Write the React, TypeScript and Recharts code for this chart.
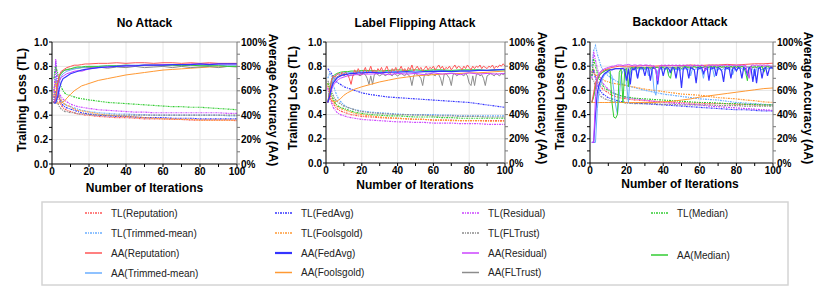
import React from 'react';
import { LineChart, Line, XAxis, YAxis, ReferenceLine } from 'recharts';

const FONT = '"Liberation Sans", Arial, Helvetica, sans-serif';

// iteration positions
const ITER = [1, 2, 3, 4, 5, 6, 7, 8, 10, 12, 14, 16, 18, 20, 25, 30, 35, 40, 45, 50, 55, 60, 65, 70, 75, 80, 85, 90, 95, 100];
const ITER_FINE = Array.from({ length: 100 }, (_, i) => i + 1);

const X_TICKS = [0, 10, 20, 30, 40, 50, 60, 70, 80, 90, 100];
const TL_TICKS = [0, 0.1, 0.2, 0.3, 0.4, 0.5, 0.6, 0.7, 0.8, 0.9, 1];
const AA_TICKS = [0, 10, 20, 30, 40, 50, 60, 70, 80, 90, 100];

const COLORS: Record<string, string> = {
  Reputation: '#ff5656',
  FedAvg: '#3434ff',
  'Trimmed-mean': '#6aaeff',
  Foolsgold: '#ff9933',
  Residual: '#cc44ff',
  FLTrust: '#8c8c8c',
  Median: '#33cc33',
};

// ---------- No Attack ----------
const NA_TL_REPUTATION = [0.6, 0.7, 0.6, 0.52, 0.48, 0.46, 0.45, 0.44, 0.43, 0.42, 0.41, 0.41, 0.4, 0.4, 0.39, 0.385, 0.38, 0.38, 0.375, 0.37, 0.37, 0.37, 0.365, 0.365, 0.36, 0.36, 0.36, 0.36, 0.36, 0.355];
const NA_TL_FEDAVG = [0.5, 0.84, 0.62, 0.54, 0.5, 0.48, 0.47, 0.46, 0.45, 0.44, 0.43, 0.42, 0.415, 0.41, 0.4, 0.395, 0.39, 0.39, 0.385, 0.38, 0.38, 0.38, 0.375, 0.375, 0.375, 0.37, 0.37, 0.37, 0.37, 0.37];
const NA_TL_TRIMMED = [0.6, 0.72, 0.62, 0.56, 0.52, 0.5, 0.49, 0.48, 0.47, 0.46, 0.45, 0.44, 0.435, 0.43, 0.42, 0.415, 0.41, 0.41, 0.405, 0.405, 0.4, 0.4, 0.4, 0.4, 0.4, 0.4, 0.4, 0.4, 0.395, 0.395];
const NA_TL_FOOLSGOLD = [0.55, 0.68, 0.6, 0.55, 0.52, 0.5, 0.49, 0.48, 0.47, 0.45, 0.44, 0.435, 0.43, 0.425, 0.41, 0.4, 0.395, 0.39, 0.385, 0.38, 0.375, 0.37, 0.37, 0.365, 0.365, 0.36, 0.36, 0.36, 0.36, 0.36];
const NA_TL_RESIDUAL = [0.5, 0.86, 0.65, 0.58, 0.55, 0.53, 0.52, 0.51, 0.49, 0.48, 0.47, 0.465, 0.46, 0.455, 0.445, 0.44, 0.435, 0.43, 0.425, 0.425, 0.42, 0.42, 0.42, 0.42, 0.42, 0.42, 0.42, 0.42, 0.415, 0.415];
const NA_TL_FLTRUST = [0.5, 0.6, 0.5, 0.47, 0.45, 0.44, 0.43, 0.43, 0.42, 0.42, 0.41, 0.41, 0.41, 0.405, 0.4, 0.4, 0.4, 0.4, 0.4, 0.4, 0.4, 0.4, 0.4, 0.4, 0.4, 0.4, 0.4, 0.4, 0.4, 0.4];
const NA_TL_MEDIAN = [0.7, 0.8, 0.75, 0.68, 0.63, 0.6, 0.58, 0.57, 0.56, 0.55, 0.54, 0.535, 0.53, 0.525, 0.515, 0.505, 0.5, 0.495, 0.49, 0.485, 0.48, 0.475, 0.47, 0.47, 0.465, 0.465, 0.46, 0.455, 0.45, 0.445];
const NA_AA_REPUTATION = [50, 52, 66, 73, 76, 77, 78, 79, 80, 81, 81, 81.5, 82, 82, 82.5, 82.5, 83, 82.5, 83, 83, 82.5, 83, 83, 82.5, 83, 82.5, 83, 82.5, 82.5, 82.5];
const NA_AA_FEDAVG = [50, 50, 55, 62, 67, 70, 71, 72, 74, 75, 76, 77, 77.5, 78, 79, 79.5, 80, 80.5, 80.5, 81, 81, 81, 81.5, 81.5, 81.5, 82, 81.5, 82, 82, 82];
const NA_AA_TRIMMED = [50, 50, 60, 68, 72, 74, 75, 76, 77, 78, 78.5, 79, 79.5, 80, 80, 80.5, 80.5, 81, 81, 81, 81, 81, 81, 81, 81, 81, 81, 81, 80.5, 80.5];
const NA_AA_FOOLSGOLD = [50, 50, 50, 50, 50, 51, 52, 54, 57, 60, 62, 64, 65, 66, 68.5, 70, 71.5, 73, 74, 75, 76, 77, 77.5, 78, 78.5, 79, 79.5, 79.5, 80, 80];
const NA_AA_RESIDUAL = [50, 55, 63, 68, 71, 72, 73, 74, 75, 76, 76.5, 76, 77, 78, 79, 79.5, 80, 80.5, 80.5, 81, 81, 81.5, 81.5, 81.5, 82, 82, 82, 82, 82, 82];
const NA_AA_FLTRUST = [50, 52, 65, 72, 75, 76, 77, 77, 78, 78, 78.5, 79, 79, 79, 79.5, 78.5, 79.5, 79, 80, 79, 79.5, 80, 79, 80, 79, 79.5, 80, 79, 80, 79.5];
const NA_AA_MEDIAN = [50, 55, 65, 72, 74, 76, 77, 77.5, 78, 79, 79.5, 79.5, 80, 80, 80, 80.5, 80.5, 81, 80.5, 81, 81, 81, 81, 80.5, 81, 80.5, 80.5, 80.5, 80, 80];

// ---------- Label Flipping Attack ----------
const LF_TL_REPUTATION = [0.64, 0.58, 0.52, 0.49, 0.47, 0.45, 0.44, 0.43, 0.42, 0.41, 0.4, 0.395, 0.39, 0.385, 0.38, 0.375, 0.37, 0.37, 0.365, 0.36, 0.36, 0.355, 0.355, 0.355, 0.35, 0.35, 0.35, 0.35, 0.35, 0.35];
const LF_TL_FEDAVG = [0.78, 0.76, 0.74, 0.71, 0.69, 0.67, 0.66, 0.65, 0.63, 0.62, 0.61, 0.6, 0.59, 0.58, 0.565, 0.555, 0.545, 0.54, 0.535, 0.53, 0.525, 0.52, 0.515, 0.51, 0.505, 0.5, 0.49, 0.48, 0.47, 0.46];
const LF_TL_TRIMMED = [0.7, 0.74, 0.72, 0.65, 0.6, 0.56, 0.53, 0.51, 0.48, 0.46, 0.45, 0.44, 0.435, 0.43, 0.42, 0.415, 0.41, 0.405, 0.4, 0.4, 0.4, 0.4, 0.395, 0.395, 0.39, 0.39, 0.39, 0.39, 0.39, 0.39];
const LF_TL_FOOLSGOLD = [0.66, 0.6, 0.55, 0.52, 0.49, 0.47, 0.46, 0.45, 0.44, 0.43, 0.42, 0.41, 0.405, 0.4, 0.39, 0.38, 0.375, 0.37, 0.365, 0.36, 0.36, 0.355, 0.355, 0.35, 0.35, 0.35, 0.35, 0.345, 0.345, 0.345];
const LF_TL_RESIDUAL = [0.62, 0.55, 0.5, 0.46, 0.44, 0.42, 0.41, 0.4, 0.39, 0.38, 0.375, 0.37, 0.365, 0.36, 0.355, 0.35, 0.345, 0.34, 0.34, 0.335, 0.335, 0.33, 0.33, 0.33, 0.325, 0.325, 0.325, 0.32, 0.32, 0.32];
const LF_TL_FLTRUST = [0.68, 0.65, 0.6, 0.56, 0.53, 0.51, 0.5, 0.49, 0.47, 0.46, 0.45, 0.44, 0.43, 0.425, 0.415, 0.41, 0.405, 0.4, 0.4, 0.395, 0.395, 0.39, 0.39, 0.39, 0.385, 0.385, 0.385, 0.38, 0.38, 0.38];
const LF_TL_MEDIAN = [0.66, 0.62, 0.57, 0.53, 0.5, 0.48, 0.47, 0.46, 0.45, 0.44, 0.43, 0.42, 0.415, 0.41, 0.4, 0.395, 0.39, 0.39, 0.385, 0.38, 0.38, 0.38, 0.375, 0.375, 0.37, 0.37, 0.37, 0.37, 0.37, 0.37];
const LF_AA_REPUTATION = [
  50, 58, 68, 72, 71, 73, 74, 72, 75, 73,
  75, 73, 70, 65, 72, 77, 74, 78, 75, 73,
  76, 79, 74, 76, 80, 75, 77, 74, 78, 76,
  79, 75, 77, 80, 76, 74, 78, 76, 79, 75,
  77, 80, 76, 78, 75, 79, 77, 81, 76, 78,
  80, 77, 79, 76, 78, 80, 77, 79, 78, 80,
  77, 79, 81, 78, 80, 77, 79, 78, 80, 77,
  79, 81, 78, 80, 79, 77, 80, 78, 81, 79,
  77, 80, 78, 80, 79, 81, 78, 80, 79, 78,
  80, 79, 81, 78, 80, 79, 81, 80, 82, 80,
];
const LF_AA_FEDAVG = [50, 55, 62, 66, 68, 70, 71, 72, 73, 73.5, 74, 74, 74.5, 74.5, 75, 74.5, 75, 75, 75.5, 75, 75.5, 75.5, 76, 75.5, 76, 76, 76.5, 76.5, 77, 77.5];
const LF_AA_TRIMMED = [50, 58, 66, 70, 72, 73, 73.5, 74, 74.5, 75, 75, 75, 75.5, 75.5, 75.5, 75, 76, 75.5, 76, 76, 76, 76.5, 76.5, 76, 76.5, 76.5, 77, 76.5, 77, 77];
const LF_AA_FOOLSGOLD = [50, 53, 52, 51, 50.5, 51, 52, 53, 56, 58, 59.5, 61, 62, 63, 65, 67, 68.5, 70, 71, 72, 72.5, 73, 73.5, 74, 74, 74.5, 74.5, 75, 75.5, 76];
const LF_AA_RESIDUAL = [50, 55, 60, 64, 66, 68, 69, 70, 71, 72, 72.5, 73, 73, 73.5, 73.5, 74, 73, 74, 73.5, 74, 73, 74.5, 73.5, 74, 73, 74.5, 73.5, 74, 73.5, 74];
const LF_AA_FLTRUST = [
  50, 55, 63, 68, 70, 71, 72, 72, 73, 72,
  73, 73, 72, 73, 72, 73, 74, 73, 72, 73,
  74, 73, 70, 65, 72, 65, 73, 74, 73, 72,
  73, 74, 72, 73, 74, 73, 72, 74, 73, 72,
  73, 74, 73, 72, 74, 73, 71, 64, 72, 74,
  73, 72, 70, 64, 73, 74, 72, 73, 74, 73,
  72, 74, 73, 70, 64, 73, 74, 72, 70, 64,
  73, 74, 72, 73, 74, 73, 72, 74, 72, 66,
  64, 72, 64, 73, 74, 72, 73, 70, 64, 72,
  73, 74, 73, 72, 74, 73, 72, 74, 73, 74,
];
const LF_AA_MEDIAN = [50, 60, 68, 72, 73, 74, 74.5, 75, 75.5, 75.5, 76, 76, 76, 76.5, 76.5, 76, 76.5, 77, 76.5, 77, 76.5, 77, 77, 76.5, 77, 77, 77, 76.5, 77, 77];

// ---------- Backdoor Attack ----------
const BD_TL_REPUTATION = [0.75, 0.78, 0.72, 0.68, 0.65, 0.63, 0.61, 0.6, 0.58, 0.56, 0.55, 0.54, 0.535, 0.53, 0.52, 0.515, 0.51, 0.505, 0.5, 0.5, 0.495, 0.495, 0.49, 0.49, 0.49, 0.485, 0.485, 0.48, 0.48, 0.48];
const BD_TL_FEDAVG = [0.72, 0.76, 0.7, 0.65, 0.61, 0.59, 0.57, 0.56, 0.54, 0.53, 0.52, 0.51, 0.505, 0.5, 0.495, 0.49, 0.485, 0.48, 0.475, 0.47, 0.465, 0.46, 0.455, 0.45, 0.445, 0.44, 0.44, 0.435, 0.43, 0.43];
const BD_TL_TRIMMED = [0.8, 0.93, 0.97, 0.9, 0.85, 0.8, 0.77, 0.75, 0.72, 0.7, 0.68, 0.665, 0.65, 0.64, 0.62, 0.6, 0.585, 0.57, 0.56, 0.55, 0.54, 0.53, 0.525, 0.52, 0.51, 0.5, 0.495, 0.49, 0.485, 0.48];
const BD_TL_FOOLSGOLD = [0.75, 0.74, 0.73, 0.72, 0.71, 0.7, 0.69, 0.68, 0.67, 0.66, 0.655, 0.65, 0.645, 0.64, 0.625, 0.61, 0.6, 0.59, 0.58, 0.57, 0.565, 0.56, 0.55, 0.54, 0.535, 0.53, 0.52, 0.515, 0.505, 0.5];
const BD_TL_RESIDUAL = [0.7, 0.92, 0.85, 0.78, 0.73, 0.69, 0.66, 0.64, 0.61, 0.59, 0.57, 0.56, 0.55, 0.54, 0.53, 0.52, 0.51, 0.5, 0.495, 0.49, 0.485, 0.48, 0.47, 0.465, 0.46, 0.455, 0.45, 0.445, 0.44, 0.435];
const BD_TL_FLTRUST = [0.7, 0.68, 0.63, 0.6, 0.57, 0.55, 0.54, 0.53, 0.52, 0.51, 0.505, 0.5, 0.5, 0.495, 0.49, 0.49, 0.49, 0.485, 0.485, 0.48, 0.48, 0.48, 0.48, 0.475, 0.475, 0.475, 0.47, 0.47, 0.47, 0.47];
const BD_TL_MEDIAN = [0.72, 0.86, 0.8, 0.74, 0.7, 0.67, 0.64, 0.62, 0.6, 0.58, 0.57, 0.56, 0.55, 0.545, 0.535, 0.53, 0.525, 0.52, 0.515, 0.51, 0.505, 0.5, 0.5, 0.495, 0.49, 0.49, 0.485, 0.485, 0.48, 0.48];
const BD_AA_REPUTATION = [50, 58, 66, 70, 73, 75, 76, 77, 78, 79, 79.5, 80, 80, 80, 80, 80.5, 80, 80.5, 80.5, 80.5, 81, 80.5, 81, 81, 81.5, 81, 81.5, 82, 82, 82.5];
const BD_AA_FEDAVG = [
  17, 17, 40, 58, 65, 69, 72, 74, 75, 76,
  77, 77, 77.5, 78, 78, 78, 78, 78, 77, 68,
  78, 65, 78, 77, 79, 70, 78, 79, 78, 72,
  79, 78, 68, 78, 79, 77, 65, 78, 79, 72,
  78, 79, 78, 75, 79, 78, 70, 79, 78, 62,
  78, 79, 78, 70, 79, 78, 77, 66, 79, 78,
  79, 74, 78, 79, 68, 79, 78, 79, 72, 79,
  78, 76, 67, 79, 78, 79, 70, 78, 79, 76,
  79, 78, 70, 79, 78, 73, 79, 78, 67, 78,
  66, 78, 79, 70, 78, 79, 72, 78, 79, 78,
];
const BD_AA_TRIMMED = [
  17, 17, 17, 45, 60, 66, 70, 73, 74, 75,
  74, 72, 60, 48, 40, 55, 72, 76, 77, 65,
  50, 75, 77, 78, 77, 70, 78, 77, 78, 77,
  78, 72, 78, 77, 60, 56, 76, 78, 77, 78,
  77, 78, 74, 78, 77, 78, 77, 78, 76, 78,
  77, 78, 77, 78, 72, 78, 77, 78, 77, 78,
  77, 70, 78, 77, 78, 77, 78, 71, 78, 77,
  78, 77, 78, 77, 78, 77, 78, 73, 78, 77,
  78, 79, 78, 77, 78, 79, 78, 77, 78, 72,
  78, 79, 78, 77, 78, 79, 78, 79, 78, 79,
];
const BD_AA_FOOLSGOLD = [50, 50, 50, 50, 50, 50, 50, 50, 50, 50, 50, 50, 50, 50, 50, 50, 50, 50.5, 51, 52, 53, 54.5, 55.5, 56.5, 57.5, 58.5, 59.5, 60.5, 61.5, 62];
const BD_AA_RESIDUAL = [
  17, 17, 55, 70, 74, 76, 77, 78, 78.5, 79,
  79.5, 80, 80, 80.5, 81, 81, 81, 80.5, 81, 81,
  81.5, 81, 80.5, 81, 81, 80.5, 81, 81, 80.5, 81,
  81, 80.5, 81, 80, 80.5, 76, 68, 80, 81, 80.5,
  81, 80.5, 81, 80.5, 81, 80.5, 81, 80.5, 81, 80.5,
  81, 80.5, 81, 80.5, 81, 80, 81, 80.5, 81, 80.5,
  81, 80.5, 76, 80, 81, 80.5, 81, 80.5, 81, 80.5,
  81, 80.5, 81, 80.5, 81, 80.5, 81, 80.5, 81, 80.5,
  81, 80.5, 81, 80.5, 81, 75, 70, 80.5, 81, 80.5,
  81, 80.5, 81, 80.5, 81, 80.5, 81, 80.5, 80, 80,
];
const BD_AA_FLTRUST = [50, 55, 65, 70, 73, 74, 75, 76, 77, 77.5, 78, 78, 78.5, 78.5, 79, 79, 79, 79.5, 79, 79.5, 79.5, 79, 79.5, 79.5, 79, 79.5, 79.5, 79, 79.5, 79.5];
const BD_AA_MEDIAN = [
  50, 55, 62, 68, 72, 74, 75, 76, 77, 77,
  76, 50, 38, 37, 40, 75, 78, 50, 77, 78,
  63, 78, 79, 78, 79, 78, 79, 78, 79, 78,
  79, 79, 78, 79, 78, 79, 79, 78, 79, 79,
  78, 79, 72, 70, 79, 79, 78, 79, 79, 78,
  79, 80, 79, 79, 78, 79, 80, 79, 79, 80,
  79, 79, 80, 79, 79, 80, 79, 80, 79, 79,
  80, 79, 80, 79, 80, 79, 80, 79, 80, 79,
  80, 79, 80, 79, 75, 68, 79, 80, 79, 80,
  79, 80, 79, 80, 75, 79, 80, 79, 80, 79,
];

type Series = { method: string; kind: 'TL' | 'AA'; x: number[]; y: number[] };

const s = (method: string, kind: 'TL' | 'AA', x: number[], y: number[]): Series => ({ method, kind, x, y });

const PANELS = [
  {
    title: 'No Attack', left: 0, width: 280, leftW: 52, rightW: 43, xH: 36,
    titleX: 144.5, titleY: 23, ylX: 22, ylY: 100, yrX: 273, yrY: 100, xlX: 144.5, xlY: 188,
    series: [
      s('Reputation', 'TL', ITER, NA_TL_REPUTATION), s('FedAvg', 'TL', ITER, NA_TL_FEDAVG),
      s('Trimmed-mean', 'TL', ITER, NA_TL_TRIMMED), s('Foolsgold', 'TL', ITER, NA_TL_FOOLSGOLD),
      s('Residual', 'TL', ITER, NA_TL_RESIDUAL), s('FLTrust', 'TL', ITER, NA_TL_FLTRUST),
      s('Median', 'TL', ITER, NA_TL_MEDIAN),
      s('Foolsgold', 'AA', ITER, NA_AA_FOOLSGOLD), s('FLTrust', 'AA', ITER, NA_AA_FLTRUST),
      s('Trimmed-mean', 'AA', ITER, NA_AA_TRIMMED), s('Median', 'AA', ITER, NA_AA_MEDIAN),
      s('Residual', 'AA', ITER, NA_AA_RESIDUAL), s('Reputation', 'AA', ITER, NA_AA_REPUTATION),
      s('FedAvg', 'AA', ITER, NA_AA_FEDAVG),
    ],
  },
  {
    title: 'Label Flipping Attack', left: 270, width: 280, leftW: 56, rightW: 45, xH: 37,
    titleX: 415, titleY: 23, ylX: 292.7, ylY: 98, yrX: 541.7, yrY: 98, xlX: 415, xlY: 185,
    series: [
      s('Reputation', 'TL', ITER, LF_TL_REPUTATION), s('FedAvg', 'TL', ITER, LF_TL_FEDAVG),
      s('Trimmed-mean', 'TL', ITER, LF_TL_TRIMMED), s('Foolsgold', 'TL', ITER, LF_TL_FOOLSGOLD),
      s('Residual', 'TL', ITER, LF_TL_RESIDUAL), s('FLTrust', 'TL', ITER, LF_TL_FLTRUST),
      s('Median', 'TL', ITER, LF_TL_MEDIAN),
      s('FLTrust', 'AA', ITER_FINE, LF_AA_FLTRUST), s('Foolsgold', 'AA', ITER, LF_AA_FOOLSGOLD),
      s('Trimmed-mean', 'AA', ITER, LF_AA_TRIMMED), s('Median', 'AA', ITER, LF_AA_MEDIAN),
      s('Reputation', 'AA', ITER_FINE, LF_AA_REPUTATION), s('Residual', 'AA', ITER, LF_AA_RESIDUAL),
      s('FedAvg', 'AA', ITER, LF_AA_FEDAVG),
    ],
  },
  {
    title: 'Backdoor Attack', left: 545, width: 285, leftW: 45, rightW: 57, xH: 37,
    titleX: 680, titleY: 22, ylX: 560, ylY: 98, yrX: 808, yrY: 98, xlX: 680, xlY: 184,
    series: [
      s('Reputation', 'TL', ITER, BD_TL_REPUTATION), s('FedAvg', 'TL', ITER, BD_TL_FEDAVG),
      s('Trimmed-mean', 'TL', ITER, BD_TL_TRIMMED), s('Foolsgold', 'TL', ITER, BD_TL_FOOLSGOLD),
      s('Residual', 'TL', ITER, BD_TL_RESIDUAL), s('FLTrust', 'TL', ITER, BD_TL_FLTRUST),
      s('Median', 'TL', ITER, BD_TL_MEDIAN),
      s('Foolsgold', 'AA', ITER, BD_AA_FOOLSGOLD), s('FLTrust', 'AA', ITER, BD_AA_FLTRUST),
      s('Trimmed-mean', 'AA', ITER_FINE, BD_AA_TRIMMED), s('Median', 'AA', ITER_FINE, BD_AA_MEDIAN),
      s('Reputation', 'AA', ITER, BD_AA_REPUTATION), s('FedAvg', 'AA', ITER_FINE, BD_AA_FEDAVG),
      s('Residual', 'AA', ITER_FINE, BD_AA_RESIDUAL),
    ],
  },
];

const LEGEND_COLUMNS = [
  { lx: 85, tx: 111, items: [['Reputation', 'TL', 213], ['Trimmed-mean', 'TL', 233], ['Reputation', 'AA', 253], ['Trimmed-mean', 'AA', 273]] },
  { lx: 275, tx: 301, items: [['FedAvg', 'TL', 213], ['Foolsgold', 'TL', 233], ['FedAvg', 'AA', 253], ['Foolsgold', 'AA', 272.5]] },
  { lx: 462, tx: 488, items: [['Residual', 'TL', 213], ['FLTrust', 'TL', 233], ['Residual', 'AA', 253], ['FLTrust', 'AA', 272.5]] },
  { lx: 651, tx: 677, items: [['Median', 'TL', 213], ['Median', 'AA', 255]] },
];

const TL_DASH = '2 1 1 1';

const tickStyle = { fontSize: 10, fontWeight: 'bold', fill: '#000', fontFamily: FONT };
const axisTitle = { fontSize: 12, fontWeight: 'bold', fill: '#000', fontFamily: FONT } as const;

const fmtX = (v: number) => (v % 20 === 0 ? String(v) : '');
const fmtTL = (v: number) => (Math.round(v * 10) % 2 === 0 ? v.toFixed(1) : '');
const fmtAA = (v: number) => (v % 20 === 0 ? `${v}%` : '');

function Panel({ p }: { p: (typeof PANELS)[number] }) {
  const tl = p.series.filter((q) => q.kind === 'TL');
  const aa = p.series.filter((q) => q.kind === 'AA');
  const pts = (q: Series) => q.x.map((x, i) => ({ x, y: q.y[i] }));
  return (
    <div style={{ position: 'absolute', left: p.left, top: 0 }}>
      <LineChart width={p.width} height={200} margin={{ top: 42, right: 0, bottom: 0, left: 0 }}>
        <XAxis
          type="number" dataKey="x" domain={[0, 100]} ticks={X_TICKS} interval={0}
          tickFormatter={fmtX} height={p.xH} tickSize={3} tickMargin={1}
          tick={tickStyle} axisLine={{ stroke: '#000' }} tickLine={{ stroke: '#000' }}
        />
        <YAxis
          yAxisId="left" type="number" domain={[0, 1]} ticks={TL_TICKS} interval={0}
          tickFormatter={fmtTL} width={p.leftW} tickSize={3} tickMargin={1}
          tick={tickStyle} axisLine={{ stroke: '#000' }} tickLine={{ stroke: '#000' }}
        />
        <YAxis
          yAxisId="right" orientation="right" type="number" domain={[0, 100]} ticks={AA_TICKS} interval={0}
          tickFormatter={fmtAA} width={p.rightW} tickSize={3} tickMargin={1}
          tick={tickStyle} axisLine={{ stroke: '#777' }} tickLine={{ stroke: '#777' }}
        />
        {[20, 40, 60, 80].map((v) => (
          <ReferenceLine key={'gx' + v} yAxisId="left" x={v} stroke="#e6e6e6" strokeWidth={1} />
        ))}
        {[0.2, 0.4, 0.6, 0.8].map((v) => (
          <ReferenceLine key={'gy' + v} yAxisId="left" y={v} stroke="#e6e6e6" strokeWidth={1} />
        ))}
        <ReferenceLine yAxisId="left" y={1} stroke="#999" strokeWidth={1} />
        {tl.map((q) => (
          <Line
            key={'tl' + q.method} yAxisId="left" data={pts(q)} dataKey="y" type="linear"
            stroke={COLORS[q.method]} strokeWidth={1.2} strokeDasharray={TL_DASH}
            dot={false} isAnimationActive={false}
          />
        ))}
        {aa.map((q) => (
          <Line
            key={'aa' + q.method} yAxisId="right" data={pts(q)} dataKey="y" type="linear"
            stroke={COLORS[q.method]} strokeWidth={q.method === 'FedAvg' ? 1.2 : 1}
            dot={false} isAnimationActive={false}
          />
        ))}
      </LineChart>
    </div>
  );
}

export default function App() {
  return (
    <div style={{ position: 'absolute', left: 0, top: 0, width: 830, height: 293, background: '#fff', overflow: 'hidden' }}>
      {PANELS.map((p) => (
        <Panel key={p.title} p={p} />
      ))}
      <svg width={830} height={293} style={{ position: 'absolute', left: 0, top: 0, pointerEvents: 'none' }}>
        {PANELS.map((p) => (
          <g key={'t' + p.title}>
            <text x={p.titleX} y={p.titleY} dy="0.35em" textAnchor="middle" {...axisTitle}>{p.title}</text>
            <text x={p.xlX} y={p.xlY} dy="0.35em" textAnchor="middle" {...axisTitle}>Number of Iterations</text>
            <text x={p.ylX} y={p.ylY} dy="0.35em" textAnchor="middle" transform={`rotate(-90 ${p.ylX} ${p.ylY})`} {...axisTitle}>Training Loss (TL)</text>
            <text x={p.yrX} y={p.yrY} dy="0.35em" textAnchor="middle" transform={`rotate(90 ${p.yrX} ${p.yrY})`} {...axisTitle}>Average Accuracy (AA)</text>
          </g>
        ))}
        <rect x={42} y={202} width={746} height={83} fill="none" stroke="#d4d4d4" strokeWidth={1.5} />
        {LEGEND_COLUMNS.map((c, ci) =>
          c.items.map(([m, k, y]) => (
            <g key={`lg${ci}${m}${k}`}>
              <line
                x1={c.lx} x2={c.lx + 17} y1={y as number} y2={y as number}
                stroke={COLORS[m as string]}
                strokeWidth={k === 'AA' && m === 'FedAvg' ? 2.2 : 1.5}
                strokeDasharray={k === 'TL' ? TL_DASH : undefined}
              />
              <text x={c.tx} y={y as number} dy="0.35em" fontSize={10} fontFamily={FONT} fill="#222">
                {`${k}(${m})`}
              </text>
            </g>
          )),
        )}
      </svg>
    </div>
  );
}
